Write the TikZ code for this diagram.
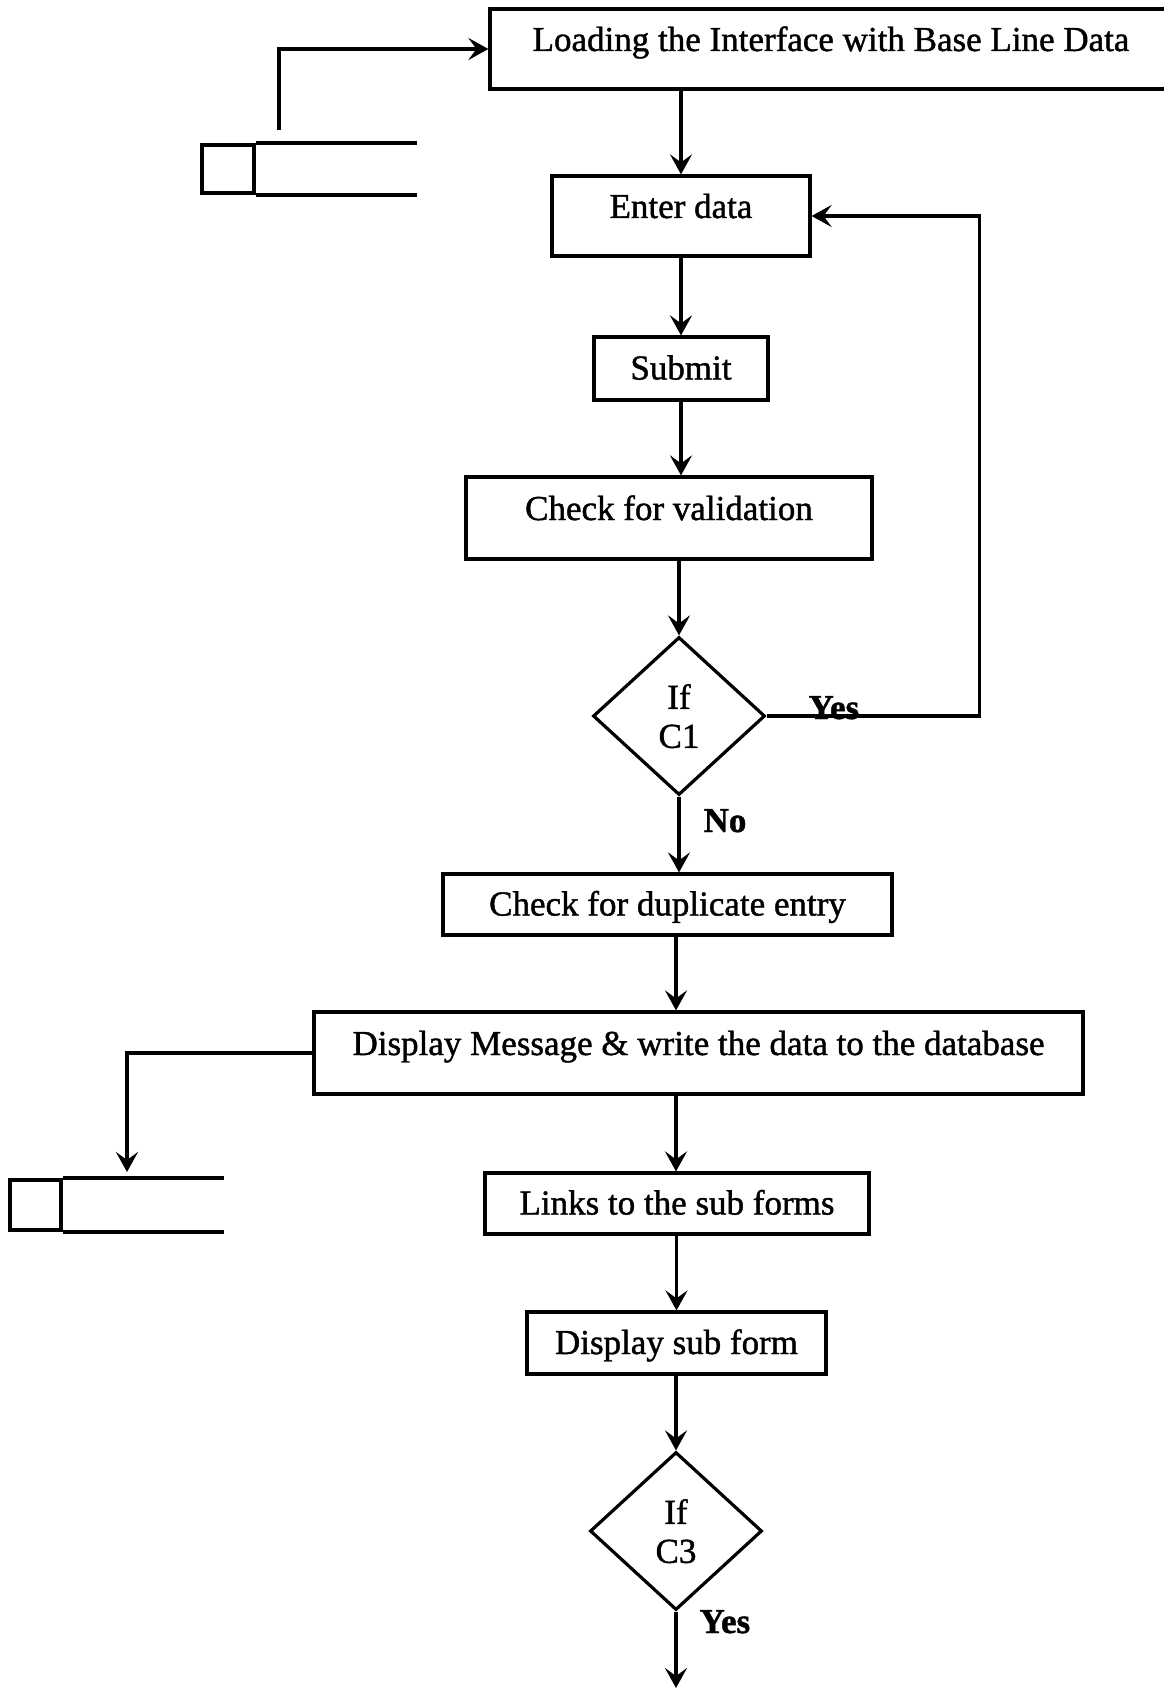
\documentclass[tikz,border=0pt]{standalone}
\usepackage{fontspec}
\setmainfont[FakeBold=1.2]{Liberation Serif}
\usetikzlibrary{shapes.geometric,arrows.meta}
\begin{document}
\begin{tikzpicture}[x=1pt,y=-1pt,line width=3.2pt,
  every node/.style={font=\fontsize{35}{39}\selectfont},
  box/.style={draw,rectangle,inner sep=0pt,text height=24pt,text depth=2pt},
  tall/.style={text depth=20pt},
  cond/.style={draw,diamond,inner sep=0pt,align=center,minimum width=172pt,minimum height=158pt,text depth=-9pt},
  lbl/.style={font=\fontsize{35}{39}\selectfont\bfseries,anchor=base west,inner sep=0pt},
  arr/.style={-{Stealth[length=20pt,width=22pt,inset=8pt]}},
  store/.style={draw,line width=3.8pt,inner sep=0pt}]
\useasboundingbox (0,0) rectangle (1163,1688);
\node[box,tall,minimum width=682pt,minimum height=80pt] (load) at (831,49) {Loading the Interface with Base Line Data};
\node[box,tall,minimum width=258pt,minimum height=80pt] (enter) at (681,216) {Enter data};
\node[box,minimum width=174pt,minimum height=63pt] (submit) at (681,368.5) {Submit};
\node[box,tall,minimum width=406pt,minimum height=82pt] (valid) at (669,518) {Check for validation};
\node[cond] (c1) at (679,716) {If\\C1};
\node[box,minimum width=449pt,minimum height=61pt] (dup) at (667.5,904.5) {Check for duplicate entry};
\node[box,tall,minimum width=769pt,minimum height=82pt] (disp) at (698.5,1053) {Display Message \& write the data to the database};
\node[box,minimum width=384pt,minimum height=61pt] (links) at (677,1203.5) {Links to the sub forms};
\node[box,minimum width=299pt,minimum height=62pt] (sub) at (676.5,1343) {Display sub form};
\node[cond] (c3) at (676,1531) {If\\C3};
\node[store,minimum width=52pt,minimum height=48pt] (s1) at (228,169) {};
\draw[line width=3.8pt] (s1.north east) -- ++(161,0) (s1.south east) -- ++(161,0);
\node[store,minimum width=51pt,minimum height=50pt] (s2) at (35.5,1205) {};
\draw[line width=3.8pt] (s2.north east) -- ++(161,0) (s2.south east) -- ++(161,0);
\coordinate (out1) at (279,130);
\coordinate (in2) at (127,1172);
\coordinate (next) at (676,1688);
\node[lbl] (yes1) at (807,719) {Yes};
\node[lbl] (no1) at (702,832) {No};
\node[lbl] (yes3) at (698,1633) {Yes};
\draw[arr] (out1) |- (load.west);
\draw[arr] (enter.north |- load.south) -- (enter.north);
\draw[arr] (enter) -- (submit);
\draw[arr] (submit.south) -- (submit.south |- valid.north);
\draw[arr] (c1.north |- valid.south) -- (c1.north);
\draw[arr] (c1.south) -- (c1.south |- dup.north);
\draw[arr] (c3 |- dup.south) -- (c3 |- disp.north);
\draw[arr] (c3 |- disp.south) -- (c3 |- links.north);
\draw[arr] (sub.north |- links.south) -- (sub.north);
\draw[arr] (c3.north |- sub.south) -- (c3.north);
\draw[arr] (c3.south) -- (next);
\draw[arr] (c1.east) -- ++(213,0) |- (enter.east);
\draw[arr] (disp.west) -| (in2);
\end{tikzpicture}
\end{document}
